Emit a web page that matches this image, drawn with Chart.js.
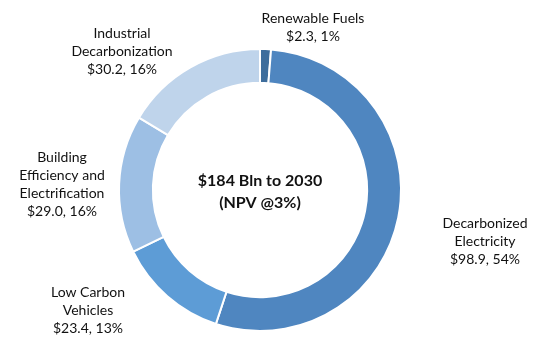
<!DOCTYPE html>
<html>
<head>
<meta charset="utf-8">
<script src="https://cdn.jsdelivr.net/npm/chart.js@4/dist/chart.umd.min.js"></script>
<style>
  html, body { margin: 0; padding: 0; background: #fff; }
  #wrap { width: 539px; height: 349px; }
</style>
</head>
<body>
<div id="wrap"><canvas id="donut"></canvas></div>
<script>
const categories = ["Renewable Fuels", "Decarbonized Electricity", "Low Carbon Vehicles", "Building Efficiency and Electrification", "Industrial Decarbonization"];
const values = [2.3, 98.9, 23.4, 29.0, 30.2];
const shares = ["1%", "54%", "13%", "16%", "16%"];
const labelLines = [
  ["Renewable Fuels"],
  ["Decarbonized", "Electricity"],
  ["Low Carbon", "Vehicles"],
  ["Building", "Efficiency and", "Electrification"],
  ["Industrial", "Decarbonization"]
];
const centerText = ["$184 Bln to 2030", "(NPV @3%)"];
const colors = ["#3d6d9c", "#4f86c0", "#5d9cd6", "#9dbfe4", "#bfd4eb"];

// where each label block sits (centre x, first line y)
const labelPos = [[313, 18], [485, 223], [88, 292], [62, 157], [122, 33]];

const calloutLabels = {
  id: 'calloutLabels',
  afterDraw(chart) {
    const { ctx } = chart;
    ctx.save();
    ctx.fillStyle = "#111111";
    ctx.textAlign = "center";
    ctx.textBaseline = "middle";
    ctx.font = "14px Lato";
    categories.forEach((cat, i) => {
      const lines = labelLines[i].concat([`$${values[i].toFixed(1)}, ${shares[i]}`]);
      const [x, y] = labelPos[i];
      lines.forEach((t, j) => ctx.fillText(t, x, y + j * 18.3));
    });
    const meta = chart.getDatasetMeta(0).data[0];
    ctx.font = "bold 16px Lato";
    ctx.fillText(centerText[0], meta.x, meta.y - 9);
    ctx.fillText(centerText[1], meta.x, meta.y + 13);
    ctx.restore();
  }
};

new Chart(document.getElementById("donut").getContext("2d"), {
  type: "doughnut",
  plugins: [calloutLabels],
  data: {
    labels: categories,
    datasets: [{
      data: values,
      backgroundColor: colors,
      borderColor: "#ffffff",
      borderWidth: 2
    }]
  },
  options: {
    responsive: true,
    maintainAspectRatio: false,
    animation: false,
    cutout: "76%",
    rotation: 0,
    layout: { padding: { top: 48, bottom: 17, left: 118, right: 137 } },
    plugins: {
      legend: { display: false },
      tooltip: { enabled: false }
    }
  }
});
</script>
</body>
</html>
